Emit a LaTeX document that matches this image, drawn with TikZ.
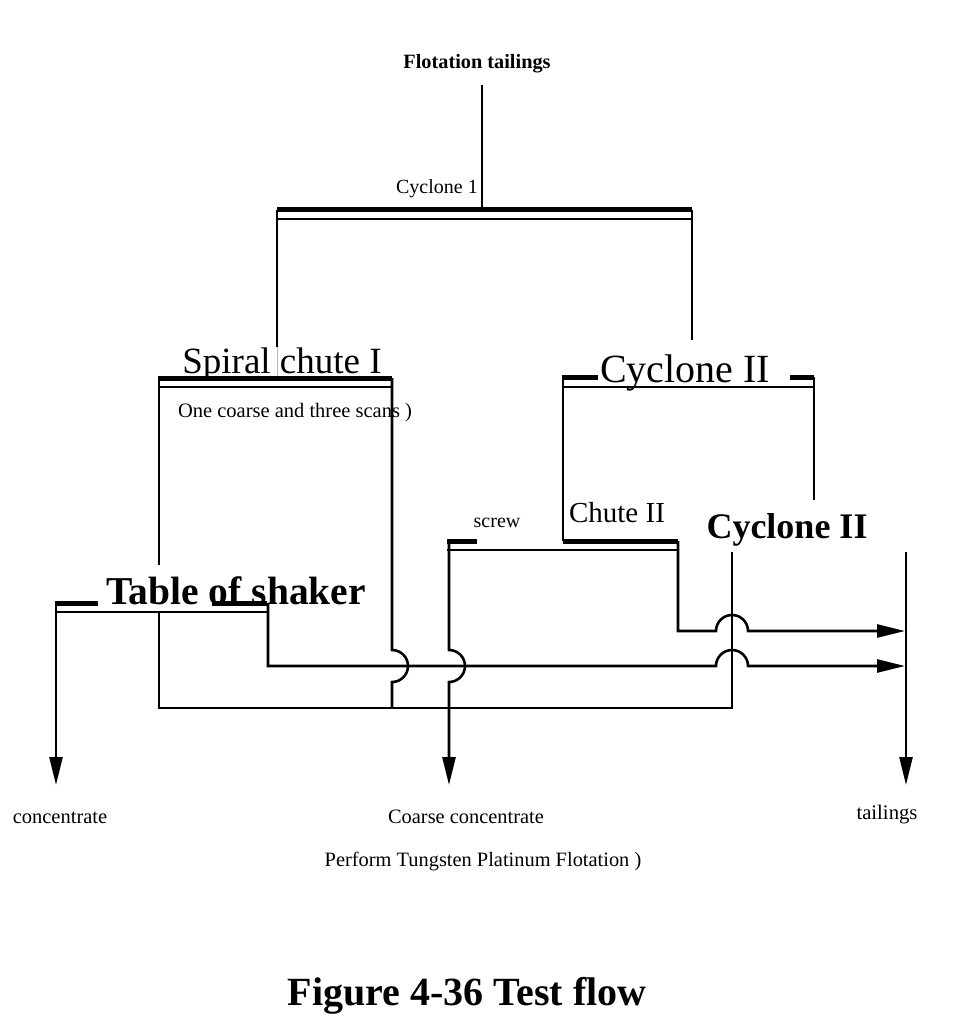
\documentclass[tikz,border=0pt]{standalone}
\usepackage{fontspec}
\setmainfont{Liberation Serif}
\usetikzlibrary{arrows.meta}
\newcommand{\myfs}[1]{\fontsize{#1}{#1}\selectfont}
\begin{document}
\begin{tikzpicture}[x=1pt,y=1pt,
  flow/.style={line width=2.6pt},
  bar/.style={line width=5pt},
  thinbar/.style={line width=2.4pt},
  arr/.style={flow,-{Triangle[length=28pt,width=13pt]}},
  lbl/.style={inner sep=0pt,anchor=base},
]
\useasboundingbox (0,0) rectangle (959,-1024);

% ---------- labels ----------
\node[lbl,font=\myfs{20.3}\bfseries] (feed) at (477,-69) {Flotation tailings};
\node[lbl,anchor=base east,font=\myfs{20}] (cyc1) at (478,-194) {Cyclone 1};
\node[lbl,font=\myfs{37}] (spiral) at (282,-373) {Spiral chute I};
\node[lbl,font=\myfs{20.5}] (scans) at (295,-417) {One coarse and three scans )};
\node[lbl,font=\myfs{40}] (cyc2) at (685,-382) {Cyclone II};
\node[lbl,font=\myfs{29}] (chute2) at (617,-522) {Chute II};
\node[lbl,font=\myfs{20}] (screw) at (497,-527) {screw};
\node[lbl,font=\myfs{36}\bfseries] (cyc2b) at (787,-538) {Cyclone II};
\node[lbl,font=\myfs{39.5}\bfseries] (table) at (236,-604) {Table of shaker};
\node[lbl,font=\myfs{20.5}] (conc) at (60,-823) {concentrate};
\node[lbl,font=\myfs{20.4}] (coarse) at (466,-823) {Coarse concentrate};
\node[lbl,font=\myfs{20.7}] (tail) at (887,-819) {tailings};
\node[lbl,font=\myfs{20.4}] (perform) at (483,-866) {Perform Tungsten Platinum Flotation )};
\node[lbl,font=\myfs{40}\bfseries] (fig) at (467,-1005) {Figure 4-36 Test flow};

% ---------- named points ----------
\coordinate (feedtop) at (482,-85);
\coordinate (c1in) at (482,-210);
\coordinate (c1L) at (277,-210);   \coordinate (c1R) at (692,-210);
\coordinate (c1Lt) at (277,-219);  \coordinate (c1Rt) at (692,-219);
\coordinate (c1Lend) at (277,-347);
\coordinate (spiralin) at (277,-378);
\coordinate (c1Rend) at (692,-340);

\coordinate (spL) at (158,-378);   \coordinate (spR) at (392,-378);
\coordinate (spLt) at (158,-387);  \coordinate (spRt) at (392,-387);
\coordinate (spA) at (159,-378);   \coordinate (spAend) at (159,-565);
\coordinate (tabM) at (159,-612);  \coordinate (botL) at (159,-708);
\coordinate (botR) at (732,-708);  \coordinate (cyb) at (732,-552);
\coordinate (spB) at (392,-378);   \coordinate (spBhop) at (392,-650);
\coordinate (spBend) at (392,-708);

\coordinate (c2L) at (562,-377);   \coordinate (c2La) at (598,-377);
\coordinate (c2Rb) at (790,-377);  \coordinate (c2R) at (814,-377);
\coordinate (c2Lt) at (562,-387);  \coordinate (c2Rt) at (814,-387);
\coordinate (c2A) at (563,-377);   \coordinate (c2Aend) at (563,-541);
\coordinate (c2Bend) at (814,-500);

\coordinate (scL) at (447,-541);   \coordinate (scR) at (477,-541);
\coordinate (chL) at (563,-541);   \coordinate (chR) at (678,-541);
\coordinate (scLt) at (447,-550);  \coordinate (chRt) at (678,-550);
\coordinate (scA) at (449,-541);   \coordinate (scAhop) at (449,-650);
\coordinate (scAend) at (449,-785);
\coordinate (chB) at (678,-541);   \coordinate (chBturn) at (678,-631);
\coordinate (hopA) at (716,-631); \coordinate (outA) at (905,-631);

\coordinate (tbL) at (55,-603);    \coordinate (tbLa) at (98,-603);
\coordinate (tbRb) at (212,-603);  \coordinate (tbR) at (267,-603);
\coordinate (tbLt) at (55,-612);   \coordinate (tbRt) at (268,-612);
\coordinate (tbA) at (56,-603);    \coordinate (tbAend) at (56,-785);
\coordinate (tbB) at (268,-603);   \coordinate (tbBturn) at (268,-666);
\coordinate (hopB) at (716,-666); \coordinate (outB) at (905,-666);

\coordinate (tlA) at (906,-552);   \coordinate (tlAend) at (906,-785);

% ---------- Cyclone 1 ----------
\draw[flow] (feedtop) -- (c1in);
\draw[bar] (c1L) -- (c1R);
\draw[thinbar] (c1Lt) -- (c1Rt);
\draw[flow] (c1L) -- (c1Lend);
\draw[gray!55,line width=0.8pt] (c1Lend) -- (spiralin);
\draw[flow] (c1R) -- (c1Rend);

% ---------- Spiral chute I ----------
\draw[bar] (spL) -- (spR);
\draw[thinbar] (spLt) -- (spRt);
\draw[flow] (spA) -- (spAend);

% ---------- Cyclone II (top) ----------
\draw[bar] (c2L) -- (c2La);
\draw[bar] (c2Rb) -- (c2R);
\draw[thinbar] (c2Lt) -- (c2Rt);
\draw[flow] (c2A) -- (c2Aend);
\draw[flow] (c2R) -- (c2Bend);

% ---------- screw / Chute II ----------
\draw[bar] (scL) -- (scR);
\draw[bar] (chL) -- (chR);
\draw[thinbar] (scLt) -- (chRt);

% ---------- Table of shaker ----------
\draw[bar] (tbL) -- (tbLa);
\draw[bar] (tbRb) -- (tbR);
\draw[thinbar] (tbLt) -- (tbRt);

% ---------- flows ----------
\draw[flow] (tabM) -- (botL) -- (botR) -- (cyb);
\draw[arr] (tbB) -- (tbBturn) -- (hopB) arc[start angle=180,end angle=0,radius=16] -- (outB);
\draw[arr] (chB) -- (chBturn) -- (hopA) arc[start angle=180,end angle=0,radius=16] -- (outA);
\draw[flow] (spB) -- (spBhop) arc[start angle=90,end angle=-90,radius=16] -- (spBend);
\draw[arr] (scA) -- (scAhop) arc[start angle=90,end angle=-90,radius=16] -- (scAend);
\draw[arr] (tbA) -- (tbAend);
\draw[arr] (tlA) -- (tlAend);
\end{tikzpicture}
\end{document}
